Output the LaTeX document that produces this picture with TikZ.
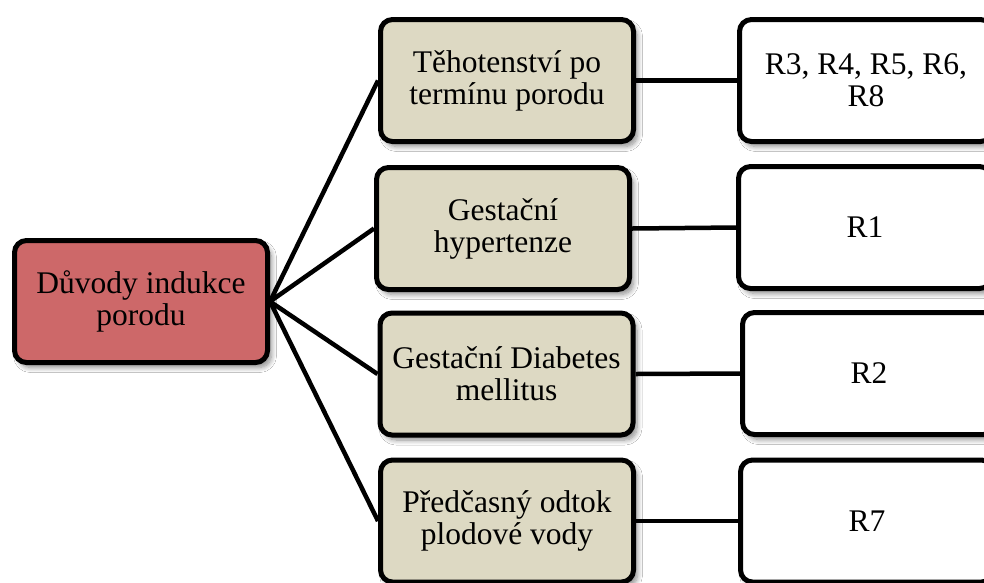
\documentclass[tikz,border=0pt]{standalone}
\usepackage{fontspec}
\setmainfont{Liberation Serif}
\usetikzlibrary{shadows.blur}
\definecolor{rootfill}{RGB}{205,104,105}
\definecolor{midfill}{RGB}{221,217,195}
\tikzset{
  box/.style={draw=black, line width=5pt, rounded corners=12pt,
    minimum width=253pt, minimum height=122pt, inner sep=2pt, align=center,
    font=\fontsize{31.5}{32}\selectfont,
    blur shadow={shadow xshift=4pt, shadow yshift=-5pt, shadow blur radius=5pt, shadow blur steps=8, shadow opacity=45}},
  rootbox/.style={box, fill=rootfill},
  midbox/.style={box, fill=midfill},
  resbox/.style={box, fill=white},
  link/.style={draw=black, line width=4.5pt}
}
\begin{document}
\begin{tikzpicture}[x=1pt,y=-1pt]
\clip (0,0) rectangle (984,582);
\fill[white] (0,0) rectangle (984,582);
\node[rootbox] (root) at (141,301.5) {Důvody indukce\\porodu};
\node[midbox] (m1) at (507,80.5) {Těhotenství po\\termínu porodu};
\node[midbox] (m2) at (503,228.5) {Gestační\\hypertenze};
\node[midbox] (m3) at (506.5,374) {Gestační Diabetes\\mellitus};
\node[midbox] (m4) at (507,521) {Předčasný odtok\\plodové vody};
\node[resbox] (r1) at (866,80.5) {R3, R4, R5, R6,\\R8};
\node[resbox] (r2) at (865,227.5) {R1};
\node[resbox] (r3) at (869,373.5) {R2};
\node[resbox] (r4) at (867,521) {R7};
\draw[link] (root.east) -- (m1.west);
\draw[link] (root.east) -- (m2.west);
\draw[link] (root.east) -- (m3.west);
\draw[link] (root.east) -- (m4.west);
\draw[link] (m1.east) -- (r1.west);
\draw[link] (m2.east) -- (r2.west);
\draw[link] (m3.east) -- (r3.west);
\draw[link] (m4.east) -- (r4.west);
\end{tikzpicture}
\end{document}
